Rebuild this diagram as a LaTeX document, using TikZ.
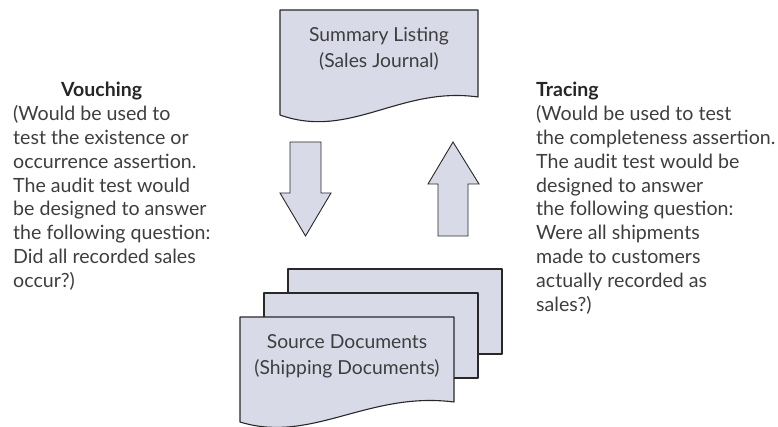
\documentclass[tikz,border=0pt]{standalone}
\usepackage{fontspec}
\setmainfont{Lato}
\definecolor{docfill}{RGB}{217,218,232}
\definecolor{ink}{RGB}{62,62,62}
\definecolor{edge}{RGB}{40,40,40}
\tikzset{
  docpaper/.style={draw=edge, fill=docfill, line width=1.1pt, line join=round},
  blockarrow/.style={draw=edge, fill=docfill, line width=0.9pt, line join=miter},
  sideline/.style={anchor=base west, inner sep=0pt, text=ink, font=\fontsize{19.6}{23.8}\selectfont},
  sidehead/.style={sideline, text=black!85, font=\fontsize{19.5}{23.8}\selectfont\bfseries},
  doclabel/.style={inner sep=0pt, text=ink, align=center, font=\fontsize{19.3}{25.5}\selectfont},
}
\begin{document}
\begin{tikzpicture}[x=1pt,y=-1pt]
\useasboundingbox (0,0) rectangle (778,427);

% summary listing (single document)
\draw[docpaper] (280,10) -- (478,10) -- (478,97)
  .. controls (400,86) and (350,140) .. (280,115) -- cycle;
% the base anchor of a two-line label sits on its last line
\node[doclabel, anchor=base] (summary) at (379,67.5) {Summary Listing\\(Sales Journal)};

% vouching arrow (down) and tracing arrow (up)
\draw[blockarrow] (290,142) -- (321,142) -- (321,193) -- (331,193) -- (305.5,236)
  -- (280,193) -- (290,193) -- cycle;
\draw[blockarrow] (453,142) -- (479,184) -- (468,184) -- (468,236) -- (438,236)
  -- (438,184) -- (428,184) -- cycle;

% stack of source documents
\draw[docpaper] (288,269) rectangle (502,354);
\draw[docpaper] (264,293) rectangle (478,378);
\draw[docpaper] (240,317) -- (454,317) -- (454,402)
  .. controls (368,391) and (312,444) .. (240,422) -- cycle;
\node[doclabel, anchor=base] (source) at (347,374) {Source Documents\\(Shipping Documents)};

% vouching explanation
\node[sidehead] (vouch) at (61,97) {Vouching};
\foreach \t [count=\i] in {{(Would be used to}, {test the existence or}, {occurrence assertion.},
  {The audit test would}, {be designed to answer}, {the following question:},
  {Did all recorded sales}, {occur?)}}
  \node[sideline] (v\i) at (13,{97+23.8*\i}) {\t};

% tracing explanation
\node[sidehead] (trace) at (536,97) {Tracing};
\foreach \t [count=\i] in {{(Would be used to test}, {the completeness assertion.},
  {The audit test would be}, {designed to answer}, {the following question:},
  {Were all shipments}, {made to customers}, {actually recorded as}, {sales?)}}
  \node[sideline] (t\i) at (536,{97+23.8*\i}) {\t};
\end{tikzpicture}
\end{document}
